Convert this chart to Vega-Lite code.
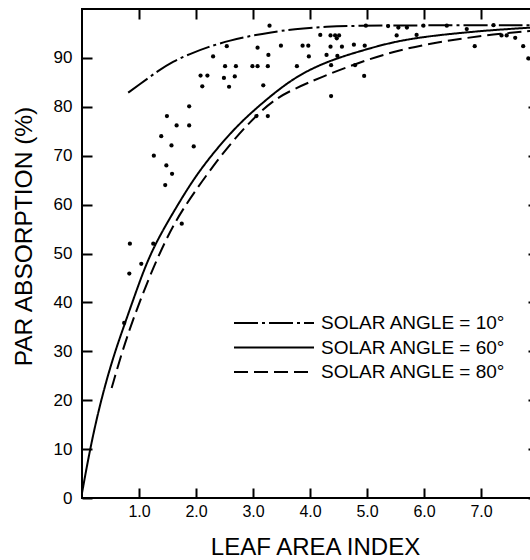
{
  "$schema": "https://vega.github.io/schema/vega-lite/v6.json",
  "width": 449,
  "height": 489,
  "autosize": {"type": "none"},
  "padding": {"left": 82, "top": 9, "right": 0, "bottom": 62},
  "background": "white",
  "config": {
    "view": {"stroke": "black", "strokeWidth": 2},
    "font": "Liberation Sans",
    "legend": {
      "orient": "none",
      "legendX": 151,
      "legendY": 303,
      "title": null,
      "padding": 0,
      "symbolType": "M-4,0H4",
      "symbolSize": 400,
      "symbolStrokeWidth": 2,
      "symbolStrokeColor": "black",
      "symbolOffset": 30,
      "labelOffset": 36,
      "labelFontSize": 19,
      "labelColor": "black",
      "labelFont": "Liberation Sans",
      "rowPadding": 3.5,
      "labelLimit": 300
    }
  },
  "datasets": {
    "obs": [
      {"lai": 0.74, "par": 35.8}, {"lai": 0.83, "par": 45.9}, {"lai": 1.04, "par": 47.9},
      {"lai": 0.84, "par": 52.0}, {"lai": 1.25, "par": 52.0}, {"lai": 1.75, "par": 56.1},
      {"lai": 1.46, "par": 64.0}, {"lai": 1.58, "par": 66.3}, {"lai": 1.48, "par": 68.0},
      {"lai": 1.26, "par": 70.0}, {"lai": 1.57, "par": 72.1}, {"lai": 1.96, "par": 71.9},
      {"lai": 1.39, "par": 74.0}, {"lai": 1.66, "par": 76.2}, {"lai": 1.88, "par": 76.2},
      {"lai": 1.49, "par": 78.1}, {"lai": 1.88, "par": 80.1}, {"lai": 2.11, "par": 84.2},
      {"lai": 2.58, "par": 84.1}, {"lai": 2.08, "par": 86.4}, {"lai": 2.20, "par": 86.4},
      {"lai": 2.49, "par": 85.9}, {"lai": 2.68, "par": 86.2}, {"lai": 2.51, "par": 88.3},
      {"lai": 2.70, "par": 88.3}, {"lai": 2.30, "par": 90.3}, {"lai": 2.54, "par": 92.4},
      {"lai": 2.99, "par": 88.3}, {"lai": 3.08, "par": 88.3}, {"lai": 3.26, "par": 88.3},
      {"lai": 3.08, "par": 92.1}, {"lai": 3.27, "par": 90.6}, {"lai": 3.18, "par": 84.4},
      {"lai": 3.06, "par": 78.1}, {"lai": 3.26, "par": 78.1}, {"lai": 3.29, "par": 96.6},
      {"lai": 3.49, "par": 92.5}, {"lai": 3.87, "par": 92.5}, {"lai": 3.97, "par": 92.5},
      {"lai": 3.98, "par": 90.3}, {"lai": 3.77, "par": 88.3}, {"lai": 4.18, "par": 94.7},
      {"lai": 4.36, "par": 94.6}, {"lai": 4.44, "par": 94.6}, {"lai": 4.51, "par": 94.6},
      {"lai": 4.47, "par": 94.0}, {"lai": 4.36, "par": 92.3}, {"lai": 4.56, "par": 92.3},
      {"lai": 4.77, "par": 92.7}, {"lai": 4.96, "par": 92.5}, {"lai": 4.29, "par": 90.6},
      {"lai": 4.48, "par": 90.4}, {"lai": 4.37, "par": 88.5}, {"lai": 4.79, "par": 88.5},
      {"lai": 4.95, "par": 86.3}, {"lai": 4.37, "par": 82.2}, {"lai": 4.98, "par": 96.6},
      {"lai": 5.37, "par": 96.5}, {"lai": 5.55, "par": 96.2}, {"lai": 5.70, "par": 96.2},
      {"lai": 5.99, "par": 96.6}, {"lai": 6.40, "par": 96.6}, {"lai": 5.52, "par": 94.6},
      {"lai": 5.87, "par": 94.7}, {"lai": 6.75, "par": 95.9}, {"lai": 6.89, "par": 92.4},
      {"lai": 7.36, "par": 94.6}, {"lai": 7.45, "par": 94.6}, {"lai": 7.60, "par": 94.1},
      {"lai": 7.74, "par": 92.4}, {"lai": 7.83, "par": 89.9}, {"lai": 7.22, "par": 96.7}
    ],
    "curves": [
      {"angle": "SOLAR ANGLE = 10°", "lai": 0.81, "par": 82.9},
      {"angle": "SOLAR ANGLE = 10°", "lai": 1.0, "par": 84.5},
      {"angle": "SOLAR ANGLE = 10°", "lai": 1.34, "par": 87.4},
      {"angle": "SOLAR ANGLE = 10°", "lai": 1.6, "par": 89.3},
      {"angle": "SOLAR ANGLE = 10°", "lai": 1.89, "par": 90.8},
      {"angle": "SOLAR ANGLE = 10°", "lai": 2.2, "par": 92.2},
      {"angle": "SOLAR ANGLE = 10°", "lai": 2.6, "par": 93.6},
      {"angle": "SOLAR ANGLE = 10°", "lai": 3.0, "par": 94.6},
      {"angle": "SOLAR ANGLE = 10°", "lai": 3.3, "par": 95.2},
      {"angle": "SOLAR ANGLE = 10°", "lai": 3.71, "par": 95.9},
      {"angle": "SOLAR ANGLE = 10°", "lai": 4.29, "par": 96.4},
      {"angle": "SOLAR ANGLE = 10°", "lai": 4.88, "par": 96.6},
      {"angle": "SOLAR ANGLE = 10°", "lai": 5.5, "par": 96.6},
      {"angle": "SOLAR ANGLE = 10°", "lai": 6.5, "par": 96.7},
      {"angle": "SOLAR ANGLE = 10°", "lai": 7.88, "par": 96.7},
      {"angle": "SOLAR ANGLE = 60°", "lai": 0.0, "par": 1.0},
      {"angle": "SOLAR ANGLE = 60°", "lai": 0.14, "par": 10.0},
      {"angle": "SOLAR ANGLE = 60°", "lai": 0.32, "par": 19.5},
      {"angle": "SOLAR ANGLE = 60°", "lai": 0.55, "par": 29.0},
      {"angle": "SOLAR ANGLE = 60°", "lai": 0.75, "par": 35.6},
      {"angle": "SOLAR ANGLE = 60°", "lai": 0.96, "par": 42.6},
      {"angle": "SOLAR ANGLE = 60°", "lai": 1.22, "par": 50.8},
      {"angle": "SOLAR ANGLE = 60°", "lai": 1.66, "par": 59.6},
      {"angle": "SOLAR ANGLE = 60°", "lai": 2.05, "par": 67.0},
      {"angle": "SOLAR ANGLE = 60°", "lai": 2.65, "par": 75.4},
      {"angle": "SOLAR ANGLE = 60°", "lai": 3.12, "par": 80.4},
      {"angle": "SOLAR ANGLE = 60°", "lai": 3.71, "par": 86.0},
      {"angle": "SOLAR ANGLE = 60°", "lai": 4.3, "par": 89.3},
      {"angle": "SOLAR ANGLE = 60°", "lai": 4.88, "par": 91.4},
      {"angle": "SOLAR ANGLE = 60°", "lai": 5.46, "par": 93.3},
      {"angle": "SOLAR ANGLE = 60°", "lai": 6.05, "par": 94.4},
      {"angle": "SOLAR ANGLE = 60°", "lai": 6.63, "par": 95.1},
      {"angle": "SOLAR ANGLE = 60°", "lai": 7.2, "par": 95.7},
      {"angle": "SOLAR ANGLE = 60°", "lai": 7.88, "par": 96.2},
      {"angle": "SOLAR ANGLE = 80°", "lai": 0.52, "par": 22.5},
      {"angle": "SOLAR ANGLE = 80°", "lai": 0.78, "par": 33.0},
      {"angle": "SOLAR ANGLE = 80°", "lai": 1.16, "par": 44.7},
      {"angle": "SOLAR ANGLE = 80°", "lai": 1.46, "par": 52.6},
      {"angle": "SOLAR ANGLE = 80°", "lai": 1.72, "par": 58.3},
      {"angle": "SOLAR ANGLE = 80°", "lai": 2.19, "par": 66.2},
      {"angle": "SOLAR ANGLE = 80°", "lai": 2.65, "par": 73.2},
      {"angle": "SOLAR ANGLE = 80°", "lai": 3.12, "par": 79.0},
      {"angle": "SOLAR ANGLE = 80°", "lai": 3.42, "par": 81.8},
      {"angle": "SOLAR ANGLE = 80°", "lai": 3.71, "par": 83.6},
      {"angle": "SOLAR ANGLE = 80°", "lai": 4.18, "par": 86.0},
      {"angle": "SOLAR ANGLE = 80°", "lai": 4.82, "par": 88.9},
      {"angle": "SOLAR ANGLE = 80°", "lai": 5.46, "par": 91.3},
      {"angle": "SOLAR ANGLE = 80°", "lai": 6.05, "par": 92.8},
      {"angle": "SOLAR ANGLE = 80°", "lai": 6.63, "par": 93.9},
      {"angle": "SOLAR ANGLE = 80°", "lai": 7.2, "par": 94.8},
      {"angle": "SOLAR ANGLE = 80°", "lai": 7.88, "par": 95.5}
    ]
  },
  "encoding": {
    "x": {
      "field": "lai", "type": "quantitative",
      "scale": {"domain": [0, 7.877], "nice": false, "zero": false},
      "axis": {
        "orient": "bottom",
        "zindex": 1,
        "values": [1, 2, 3, 4, 5, 6, 7],
        "format": ".1f",
        "domain": false,
        "ticks": false,
        "grid": true,
        "gridColor": "black",
        "gridWidth": 2,
        "gridOpacity": 1,
        "gridDash": [10, 469, 10, 1000],
        "title": "LEAF AREA INDEX",
        "titleFont": "Liberation Sans",
        "titleFontWeight": "normal",
        "titleColor": "black",
        "titleFontSize": 24,
        "titleX": 233,
        "labelFont": "Liberation Sans",
        "labelColor": "black",
        "labelFontSize": 16,
        "labelPadding": 5,
        "titlePadding": 16
      }
    },
    "y": {
      "field": "par", "type": "quantitative",
      "scale": {"domain": [0, 100], "nice": false},
      "axis": {
        "orient": "left",
        "zindex": 1,
        "values": [0, 10, 20, 30, 40, 50, 60, 70, 80, 90],
        "domain": false,
        "ticks": false,
        "grid": true,
        "gridColor": "black",
        "gridWidth": 2,
        "gridOpacity": 1,
        "gridDash": [10, 436, 3, 1000],
        "title": "PAR ABSORPTION (%)",
        "titleFont": "Liberation Sans",
        "titleFontWeight": "normal",
        "titleColor": "black",
        "titleFontSize": 24.5,
        "titleY": 227,
        "labelFont": "Liberation Sans",
        "labelColor": "black",
        "labelFontSize": 17,
        "labelPadding": 10,
        "titlePadding": 17
      }
    }
  },
  "layer": [
    {
      "data": {"name": "obs"},
      "mark": {"type": "circle", "size": 18, "color": "black", "opacity": 1}
    },
    {
      "data": {"name": "curves"},
      "mark": {"type": "line", "color": "black", "strokeWidth": 2, "interpolate": "basis"},
      "encoding": {
        "strokeDash": {
          "field": "angle", "type": "nominal",
          "scale": {
            "domain": ["SOLAR ANGLE = 10°", "SOLAR ANGLE = 60°", "SOLAR ANGLE = 80°"],
            "range": [[24, 4, 3, 4], [1, 0], [14, 6]]
          }
        }
      }
    }
  ]
}
